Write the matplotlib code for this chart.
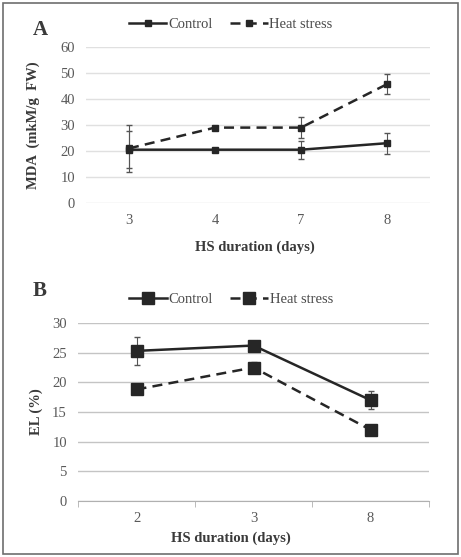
import matplotlib
matplotlib.use('Agg')
import matplotlib.pyplot as plt
from matplotlib.patches import Rectangle
from matplotlib.lines import Line2D
import numpy as np

plt.rcParams['font.family'] = ['Liberation Serif', 'DejaVu Serif']
plt.rcParams['font.size'] = 10.5

# panel A: MDA
a_days = ['3', '4', '7', '8']
a_control = [20.5, 20.5, 20.5, 23.0]
a_control_err = [7.0, 0.3, 3.5, 4.0]
a_heat = [21.0, 29.0, 29.0, 45.7]
a_heat_err = [9.0, 0.3, 4.0, 3.8]
a_yticks = [0, 10, 20, 30, 40, 50, 60]

# panel B: EL
b_days = ['2', '3', '8']
b_control = [25.3, 26.2, 17.0]
b_control_err = [2.4, 0.5, 1.5]
b_heat = [18.8, 22.5, 12.0]
b_heat_err = [0.5, 1.0, 0.5]
b_yticks = [0, 5, 10, 15, 20, 25, 30]

LINE = '#262626'
TICK = '#595959'
DASH = (0, (4, 2.5))

fig = plt.figure(figsize=(4.61, 5.57), dpi=100)
W, H = 461, 557


def box(l, t, r, b):
    return [l / W, 1 - b / H, (r - l) / W, (b - t) / H]


fig.patches.append(Rectangle((3 / W, 3 / H), 455 / W, 551 / H, transform=fig.transFigure,
                             fill=False, edgecolor='#6e6e6e', lw=1.2))


def panel(ax, days, ctrl, ctrl_err, heat, heat_err, yticks, ms, gridc, ylabel, legx):
    x = np.arange(len(days))
    ax.errorbar(x, ctrl, yerr=ctrl_err, color=LINE, lw=1.8, marker='s', ms=ms,
                ecolor='#555555', elinewidth=0.8, capsize=2.5)
    ax.errorbar(x, heat, yerr=heat_err, color=LINE, lw=1.8, ls=DASH, marker='s', ms=ms,
                ecolor='#555555', elinewidth=0.8, capsize=2.5)
    ax.set_xlim(-0.5, len(days) - 0.5)
    ax.set_ylim(yticks[0], yticks[-1])
    ax.set_yticks(yticks)
    ax.set_xticks(x)
    ax.set_xticklabels(days)
    ax.grid(axis='y', color=gridc, lw=1)
    ax.set_axisbelow(True)
    for s in ax.spines.values():
        s.set_visible(False)
    ax.tick_params(axis='both', length=0, colors=TICK, labelsize=10.5, pad=8)
    ax.set_xlabel('HS duration (days)', fontweight='bold', color='#3a3a3a', labelpad=6)
    ax.set_ylabel(ylabel, fontweight='bold', color='#3a3a3a', labelpad=8)
    handles = [Line2D([], [], color=LINE, lw=1.8, marker='s', ms=ms),
               Line2D([], [], color=LINE, lw=1.8, ls=DASH, marker='s', ms=ms)]
    leg = ax.legend(handles, ['Control', 'Heat stress'], loc='lower center',
                    bbox_to_anchor=(legx, 1.02), ncol=2, frameon=False,
                    handlelength=2.6, columnspacing=1.2, handletextpad=0.1, fontsize=10.5)
    for t in leg.get_texts():
        t.set_color('#4a4a4a')
    return ax


ax1 = fig.add_axes(box(86, 47, 430, 203))
panel(ax1, a_days, a_control, a_control_err, a_heat, a_heat_err, a_yticks, 4.5, '#e0e0e0',
      'MDA  (mkM/g  FW)', 0.42)
ax1.yaxis.set_label_coords(-0.135, 0.5)
ax1.xaxis.set_label_coords(0.49, -0.24)

ax2 = fig.add_axes(box(78, 323, 429, 501))
panel(ax2, b_days, b_control, b_control_err, b_heat, b_heat_err, b_yticks, 8, '#c4c4c4',
      'EL (%)', 0.436)
ax2.spines['bottom'].set_visible(True)
ax2.spines['bottom'].set_color('#b0b0b0')
ax2.set_xticks(np.arange(-0.5, len(b_days)), minor=True)
ax2.tick_params(axis='x', which='minor', length=4, color='#b0b0b0', direction='out')
ax2.yaxis.set_label_coords(-0.1, 0.5)
ax2.xaxis.set_label_coords(0.435, -0.17)

fig.text(40 / W, 1 - 30 / H, 'A', fontsize=15, fontweight='bold', color='#3a3a3a', ha='center', va='center')
fig.text(40 / W, 1 - 291 / H, 'B', fontsize=15, fontweight='bold', color='#3a3a3a', ha='center', va='center')

fig.savefig('out.png', dpi=100)
